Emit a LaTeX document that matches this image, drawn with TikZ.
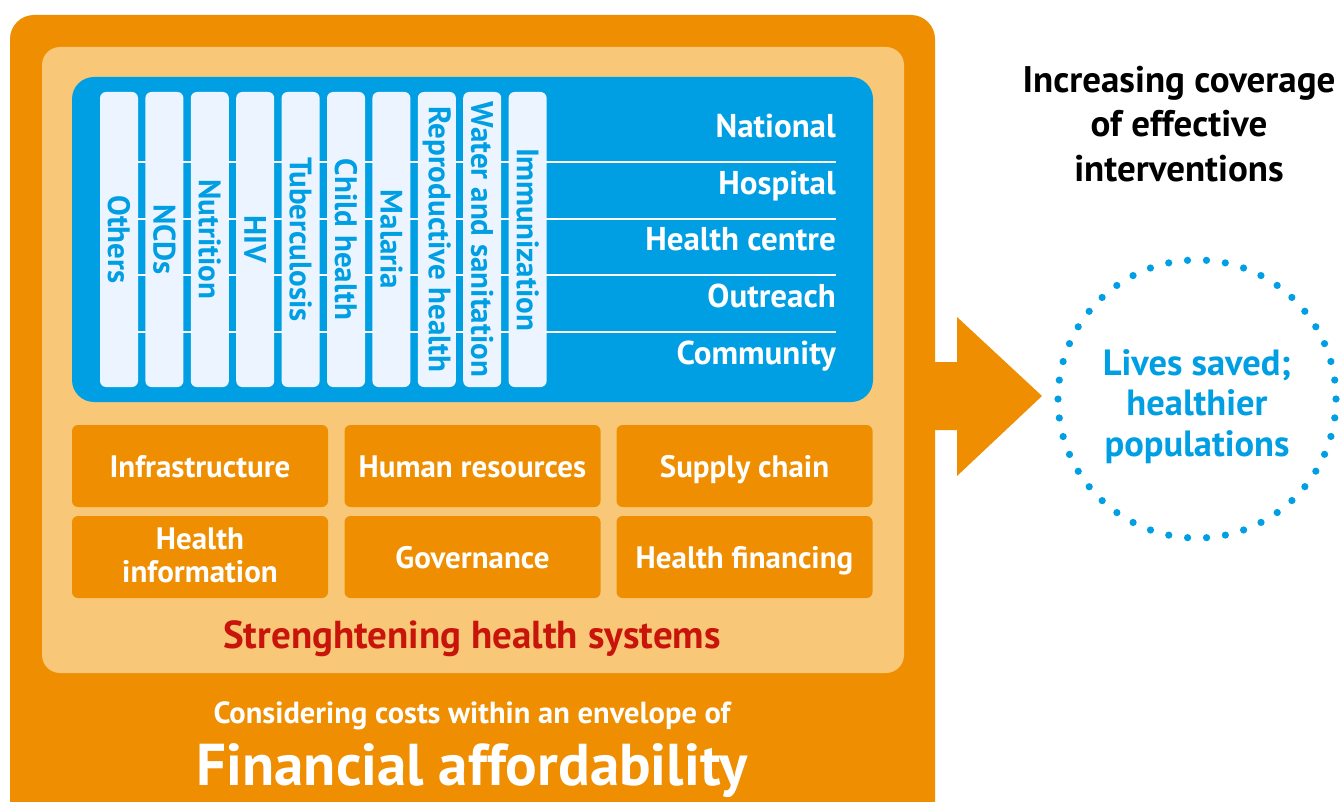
\documentclass[tikz,border=0pt]{standalone}
\usepackage{fontspec}
\setmainfont{PT Sans}
\definecolor{orng}{RGB}{238,142,0}
\definecolor{lightorng}{RGB}{248,200,120}
\definecolor{blu}{RGB}{0,158,227}
\definecolor{colfill}{RGB}{236,245,255}
\definecolor{darkred}{RGB}{200,20,10}
\newcommand{\fs}[1]{\fontsize{#1}{#1}\selectfont}
\tikzset{
  colbox/.style={rotate=-90, fill=colfill, rounded corners=6pt, minimum width=295pt, minimum height=38pt, inner sep=0pt, text=blu, font=\bfseries\fs{31}},
  levellabel/.style={anchor=east, text=white, font=\bfseries\fs{33}, inner sep=0pt, text height=23pt, text depth=3pt},
  sysbox/.style={fill=orng, rounded corners=6pt, minimum width=256pt, minimum height=82pt, inner sep=0pt, text=white, align=center, font=\bfseries\fontsize{31}{33}\selectfont},
  sysone/.style={sysbox, text height=24pt, text depth=1pt},
  dotcircle/.style={circle, draw=blu, line width=7.2pt, dash pattern=on 0pt off 18.99pt, line cap=round, minimum size=278pt, inner sep=0pt},
}
\begin{document}
\begin{tikzpicture}[x=1pt,y=-1pt]
\useasboundingbox (0,0) rectangle (1341,802);
\clip (0,0) rectangle (1341,802);
\fill[white] (0,0) rectangle (1341,802);
% outer envelope
\fill[orng, rounded corners=24pt] (10,15) rectangle (935,840);
% arrow
\fill[orng] (930,362) -- (957,362) -- (957,317) -- (1042,396) -- (957,476) -- (957,430) -- (930,430) -- cycle;
% health systems panel
\fill[lightorng, rounded corners=18pt] (42,47) rectangle (904,673);
% interventions panel
\fill[blu, rounded corners=22pt] (72,77) rectangle (873,402);
\foreach \yy in {162,219,275,332} \draw[white, line width=2pt] (100,\yy) -- (836,\yy);
% columns
\foreach \lab [count=\i from 0] in {Others,NCDs,Nutrition,HIV,Tuberculosis,Child health,Malaria,Reproductive health,Water and sanitation,Immunization}
  \node[colbox] (col\i) at (119+45.4*\i,239.5) {\lab};
% levels
\node[levellabel] (lnat) at (836,128) {National};
\node[levellabel] (lhos) at (836,185) {Hospital};
\node[levellabel] (lhc) at (836,241) {Health centre};
\node[levellabel] (lout) at (836,298) {Outreach};
\node[levellabel] (lcom) at (836,354) {Community};
% system boxes
\node[sysone] (infra) at (200,466) {Infrastructure};
\node[sysone] (hr) at (472.5,466) {Human resources};
\node[sysone] (supply) at (744.5,466) {Supply chain};
\node[sysbox] (hinfo) at (200,557) {\rule{0pt}{22pt}Health\\information\rule[-5pt]{0pt}{5pt}};
\node[sysone] (gov) at (472.5,557) {Governance};
\node[sysone] (hfin) at (744.5,557) {Health financing};
\node[text=darkred, font=\bfseries\fs{39}, text height=27pt, text depth=3pt] (shs) at (472,636) {Strenghtening health systems};
\node[text=white, font=\bfseries\fs{30.5}, text height=21pt, text depth=3pt] (cons) at (472,714) {Considering costs within an envelope of};
\node[text=white, font=\bfseries\fs{59}, text height=42pt, text depth=2pt] (fin) at (472,765) {Financial affordability};
% outcome
\node[dotcircle] (out) at (1197,399) {};
\node[text=blu, align=center, font=\bfseries\fontsize{36.5}{40.5}\selectfont] (outtxt) at (1197,406.5) {Lives saved;\\healthier\\populations};
\node[align=center, font=\bfseries\fontsize{37}{44.5}\selectfont] (title) at (1179,124) {Increasing coverage\\of effective\\interventions};
\end{tikzpicture}
\end{document}
